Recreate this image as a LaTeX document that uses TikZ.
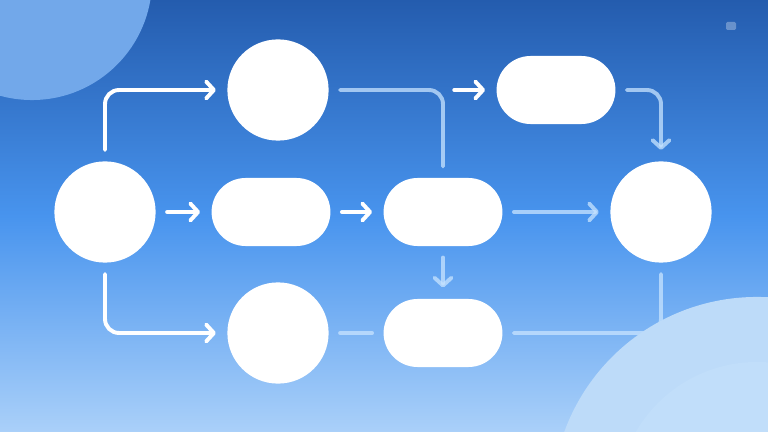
\documentclass[tikz,border=0pt]{standalone}
\usetikzlibrary{arrows.meta,shapes.misc}
\definecolor{bgtop}{RGB}{36,92,174}
\definecolor{bgmid}{RGB}{72,148,238}
\definecolor{bgbot}{RGB}{170,208,249}
\definecolor{blobtl}{RGB}{114,168,234}
\definecolor{blobbr}{RGB}{189,219,249}
\definecolor{blobin}{RGB}{193,222,250}
\definecolor{lightline}{RGB}{200,228,255}
\tikzset{
  roundnode/.style={circle, fill=white, minimum size=2.53cm, inner sep=0pt},
  pill/.style={rounded rectangle, fill=white, minimum width=2.97cm, minimum height=1.7cm, inner sep=0pt},
  flow/.style={draw=white, line width=2.8pt, line cap=round, rounded corners=10pt, shorten <=8pt, shorten >=8pt},
  faint/.style={flow, draw=lightline, draw opacity=0.75},
  arrowed/.style={-{Straight Barb[length=5.5pt,width=12pt,round]}},
}
\begin{document}
\begin{tikzpicture}[x=0.025cm, y=-0.025cm]
  \useasboundingbox (0,0) rectangle (768,432);
  \clip (0,0) rectangle (768,432);
  \shade[top color=bgtop, bottom color=bgbot, middle color=bgmid] (0,0) rectangle (768,432);
  \fill[blobtl] (32,-20) circle[radius=3cm];
  \fill[white, opacity=0.3, rounded corners=1pt] (726,22) rectangle (736,30);

  \node[roundnode] (start) at (105,212) {};
  \node[roundnode] (upper) at (278,90) {};
  \node[pill] (mid) at (271,212) {};
  \node[roundnode] (lower) at (278,333) {};
  \node[pill] (hub) at (443,212) {};
  \node[pill] (sink) at (443,333) {};
  \node[pill] (topr) at (556,90) {};
  \node[roundnode] (goal) at (661,212) {};
  \coordinate (fork) at (hub.north |- upper.east);

  \draw[flow, arrowed] (start.north) |- (upper.west);
  \draw[flow, arrowed] (start.east) -- (mid.west);
  \draw[flow, arrowed] (start.south) |- (lower.west);
  \draw[flow, arrowed] (mid.east) -- (hub.west);
  \draw[faint] (upper.east) -| (hub.north);
  \draw[flow, arrowed] (fork) -- (topr.west);
  \draw[faint, arrowed] (topr.east) -| (goal.north);
  \draw[faint, arrowed] (hub.east) -- (goal.west);
  \draw[faint, arrowed] (hub.south) -- (sink.north);
  \draw[faint] (lower.east) -- (sink.west);
  \draw[faint] (sink.east) -| (goal.south);

  \fill[blobbr] (757,502) circle[radius=5.125cm];
  \fill[blobin] (757,502) circle[radius=3.5cm];
\end{tikzpicture}
\end{document}
